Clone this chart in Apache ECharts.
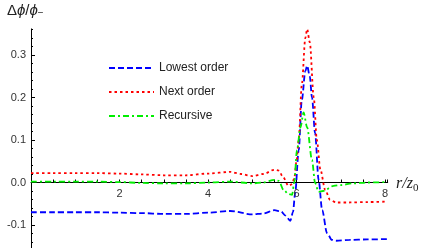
<!DOCTYPE html>
<html><head><meta charset="utf-8">
<script src="https://cdn.jsdelivr.net/npm/echarts@6/dist/echarts.min.js"></script>
<style>html,body{margin:0;padding:0;background:#fff}#c{width:427px;height:248px}</style>
</head><body><div id="c"></div>
<script>
// ---- data ----
const seriesNames = ['Lowest order', 'Next order', 'Recursive'];
const rLowest = [0,0.5,1,1.5,2,2.5,3,3.5,4,4.5,5,5.25,5.5,5.65,5.75,5.86,5.92,5.97,6.05,6.12,6.2,6.24,6.3,6.35,6.42,6.5,6.58,6.69,6.8,6.9,7.2,7.6,8.06];
const vLowest = [-0.070,-0.070,-0.070,-0.070,-0.071,-0.072,-0.074,-0.074,-0.071,-0.067,-0.075,-0.073,-0.065,-0.068,-0.078,-0.090,-0.070,-0.025,0.076,0.194,0.262,0.275,0.250,0.200,0.116,0.006,-0.065,-0.119,-0.135,-0.137,-0.135,-0.134,-0.133];
const rNext = [0,0.5,1,1.5,2,2.5,3,3.5,4,4.5,4.75,5,5.25,5.5,5.6,5.7,5.82,5.9,5.95,6.0,6.05,6.12,6.2,6.24,6.3,6.39,6.46,6.54,6.65,6.76,6.9,7.2,7.6,8.06];
const vNext = [0.022,0.022,0.022,0.022,0.021,0.019,0.017,0.017,0.021,0.025,0.020,0.015,0.020,0.030,0.028,0.012,-0.008,-0.004,0.010,0.050,0.100,0.230,0.340,0.361,0.330,0.200,0.100,0.030,-0.018,-0.041,-0.047,-0.047,-0.046,-0.045];
const rRecursive = [0,0.5,1,1.5,2,2.5,3,3.5,4,4.5,5,5.25,5.5,5.6,5.71,5.82,5.9,5.95,6.01,6.09,6.16,6.24,6.35,6.42,6.5,6.6,6.84,7.0,7.28,7.6,8.06];
const vRecursive = [0.002,0.002,0.002,0.002,0.001,-0.001,-0.002,-0.002,0.000,0.002,-0.002,0.000,0.006,0.004,-0.018,-0.027,-0.029,0.000,0.076,0.130,0.165,0.130,0.053,-0.001,-0.022,-0.020,-0.008,-0.006,-0.002,0.000,0.001];
const xTickLabels = [2, 4, 6, 8];
const yTickLabels = ['-0.1', '0.0', '0.1', '0.2', '0.3'];

const zip = (a, b) => a.map((x, i) => [x, b[i]]);
const XMIN = 0, XMAX = 8, XSTEP = 2, XAXIS_END = 8.06, XMINOR = 0.5;
const YMIN = -0.2, YMAX = 0.4, YSTEP = 0.1;

const chart = echarts.init(document.getElementById('c'), null, {renderer: 'canvas'});
const axisCol = '#000';
const FONT = 'Liberation Sans, Arial, sans-serif';
const labelStyle = {color: '#333', fontFamily: FONT, fontSize: 11};
const fmtY = v => { const s = v.toFixed(1); return (v < 0.35 && v > -0.15 && yTickLabels.indexOf(s) >= 0) ? s : ''; };
const staticGraphics = [
  {type: 'rect', id: 'mask', z: 100, shape: {x: 24, y: 0, width: 16, height: 28.5}, style: {fill: '#fff'}},
  {type: 'text', id: 'ytitle', z: 101, left: 7, top: 3, style: {
    text: '{a|Δ}{i|ϕ}{a|/}{i|ϕ}{s|−}',
    rich: {
      a: {fontFamily: FONT, fontSize: 15, fill: '#222'},
      i: {fontFamily: FONT, fontSize: 15, fontStyle: 'italic', fill: '#222'},
      s: {fontFamily: FONT, fontSize: 10, fill: '#222', padding: [6,0,0,0]}
    }}},
  {type: 'text', id: 'xtitle', z: 101, left: 396, top: 176, style: {
    text: '{i|r/z}{s|0}',
    rich: {
      i: {fontFamily: 'Liberation Serif, Times New Roman, serif', fontSize: 16, fontStyle: 'italic', fill: '#222'},
      s: {fontFamily: 'Liberation Serif, Times New Roman, serif', fontSize: 11, fill: '#222', padding: [8,0,0,0]}
    }}}
];
chart.setOption({
  animation: false,
  grid: [
    {left: 31, right: 42, top: 12.5, bottom: -19.5, containLabel: false, outerBoundsMode: 'none'},
    // grid whose bottom edge is the y = 0 line, carrying the visible x axis (same scale, ends at 8.06)
    {left: 31, right: 39.3, top: 12.5, bottom: 65.5, containLabel: false, outerBoundsMode: 'none'}
  ],
  legend: {
    orient: 'vertical', left: 103, top: 57, itemWidth: 45, itemHeight: 14, itemGap: 12,
    itemStyle: {opacity: 0},
    textStyle: {color: '#222', fontFamily: FONT, fontSize: 12},
    data: seriesNames
  },
  xAxis: [
    {gridIndex: 0, type: 'value', min: XMIN, max: XMAX, interval: XSTEP, show: false},
    {gridIndex: 1, type: 'value', min: XMIN, max: XAXIS_END, interval: XMINOR, position: 'bottom',
     axisLine: {show: true, onZero: false, lineStyle: {color: axisCol, width: 1}},
     axisTick: {show: true, inside: true, length: 3, lineStyle: {color: axisCol}},
     axisLabel: {show: false},
     splitLine: {show: false}}
  ],
  yAxis: [
    {gridIndex: 0, type: 'value', min: YMIN, max: YMAX, interval: YSTEP,
     axisLine: {show: true, onZero: false, lineStyle: {color: axisCol, width: 1}},
     axisTick: {show: true, inside: true, length: 4, lineStyle: {color: axisCol}},
     minorTick: {show: true, splitNumber: 5, length: 2, lineStyle: {color: axisCol}},
     axisLabel: Object.assign({margin: 5, formatter: fmtY}, labelStyle),
     splitLine: {show: false}, minorSplitLine: {show: false}},
    {gridIndex: 1, type: 'value', min: 0, max: 1, show: false}
  ],
  series: [
    {name: seriesNames[0], type: 'line', data: zip(rLowest, vLowest), symbol: 'none', smooth: 0.3, smoothMonotone: 'x', clip: false,
     lineStyle: {color: '#0000ff', width: 1.8, type: [6, 3]}, itemStyle: {color: '#0000ff'}},
    {name: seriesNames[1], type: 'line', data: zip(rNext, vNext), symbol: 'none', smooth: 0.3, smoothMonotone: 'x', clip: false,
     lineStyle: {color: '#ff0000', width: 1.8, type: [2.5, 3]}, itemStyle: {color: '#ff0000'}},
    {name: seriesNames[2], type: 'line', data: zip(rRecursive, vRecursive), symbol: 'none', smooth: 0.3, smoothMonotone: 'x', clip: false,
     lineStyle: {color: '#00ee00', width: 1.8, type: [6, 3, 2, 3]}, itemStyle: {color: '#00ee00'}}
  ],
  graphic: staticGraphics
});
// x tick labels placed on the y = 0 line through the chart's own coordinate conversion
const xLabelGraphics = xTickLabels.map((v, i) => {
  const p = chart.convertToPixel({gridIndex: 0}, [v, 0]);
  return {type: 'text', id: 'xl' + i, z: 50, x: p[0], y: p[1] + 6,
    style: {text: String(v), align: 'center', verticalAlign: 'top', fill: '#333', fontFamily: FONT, fontSize: 11}};
});
chart.setOption({graphic: staticGraphics.concat(xLabelGraphics)});
</script></body></html>
